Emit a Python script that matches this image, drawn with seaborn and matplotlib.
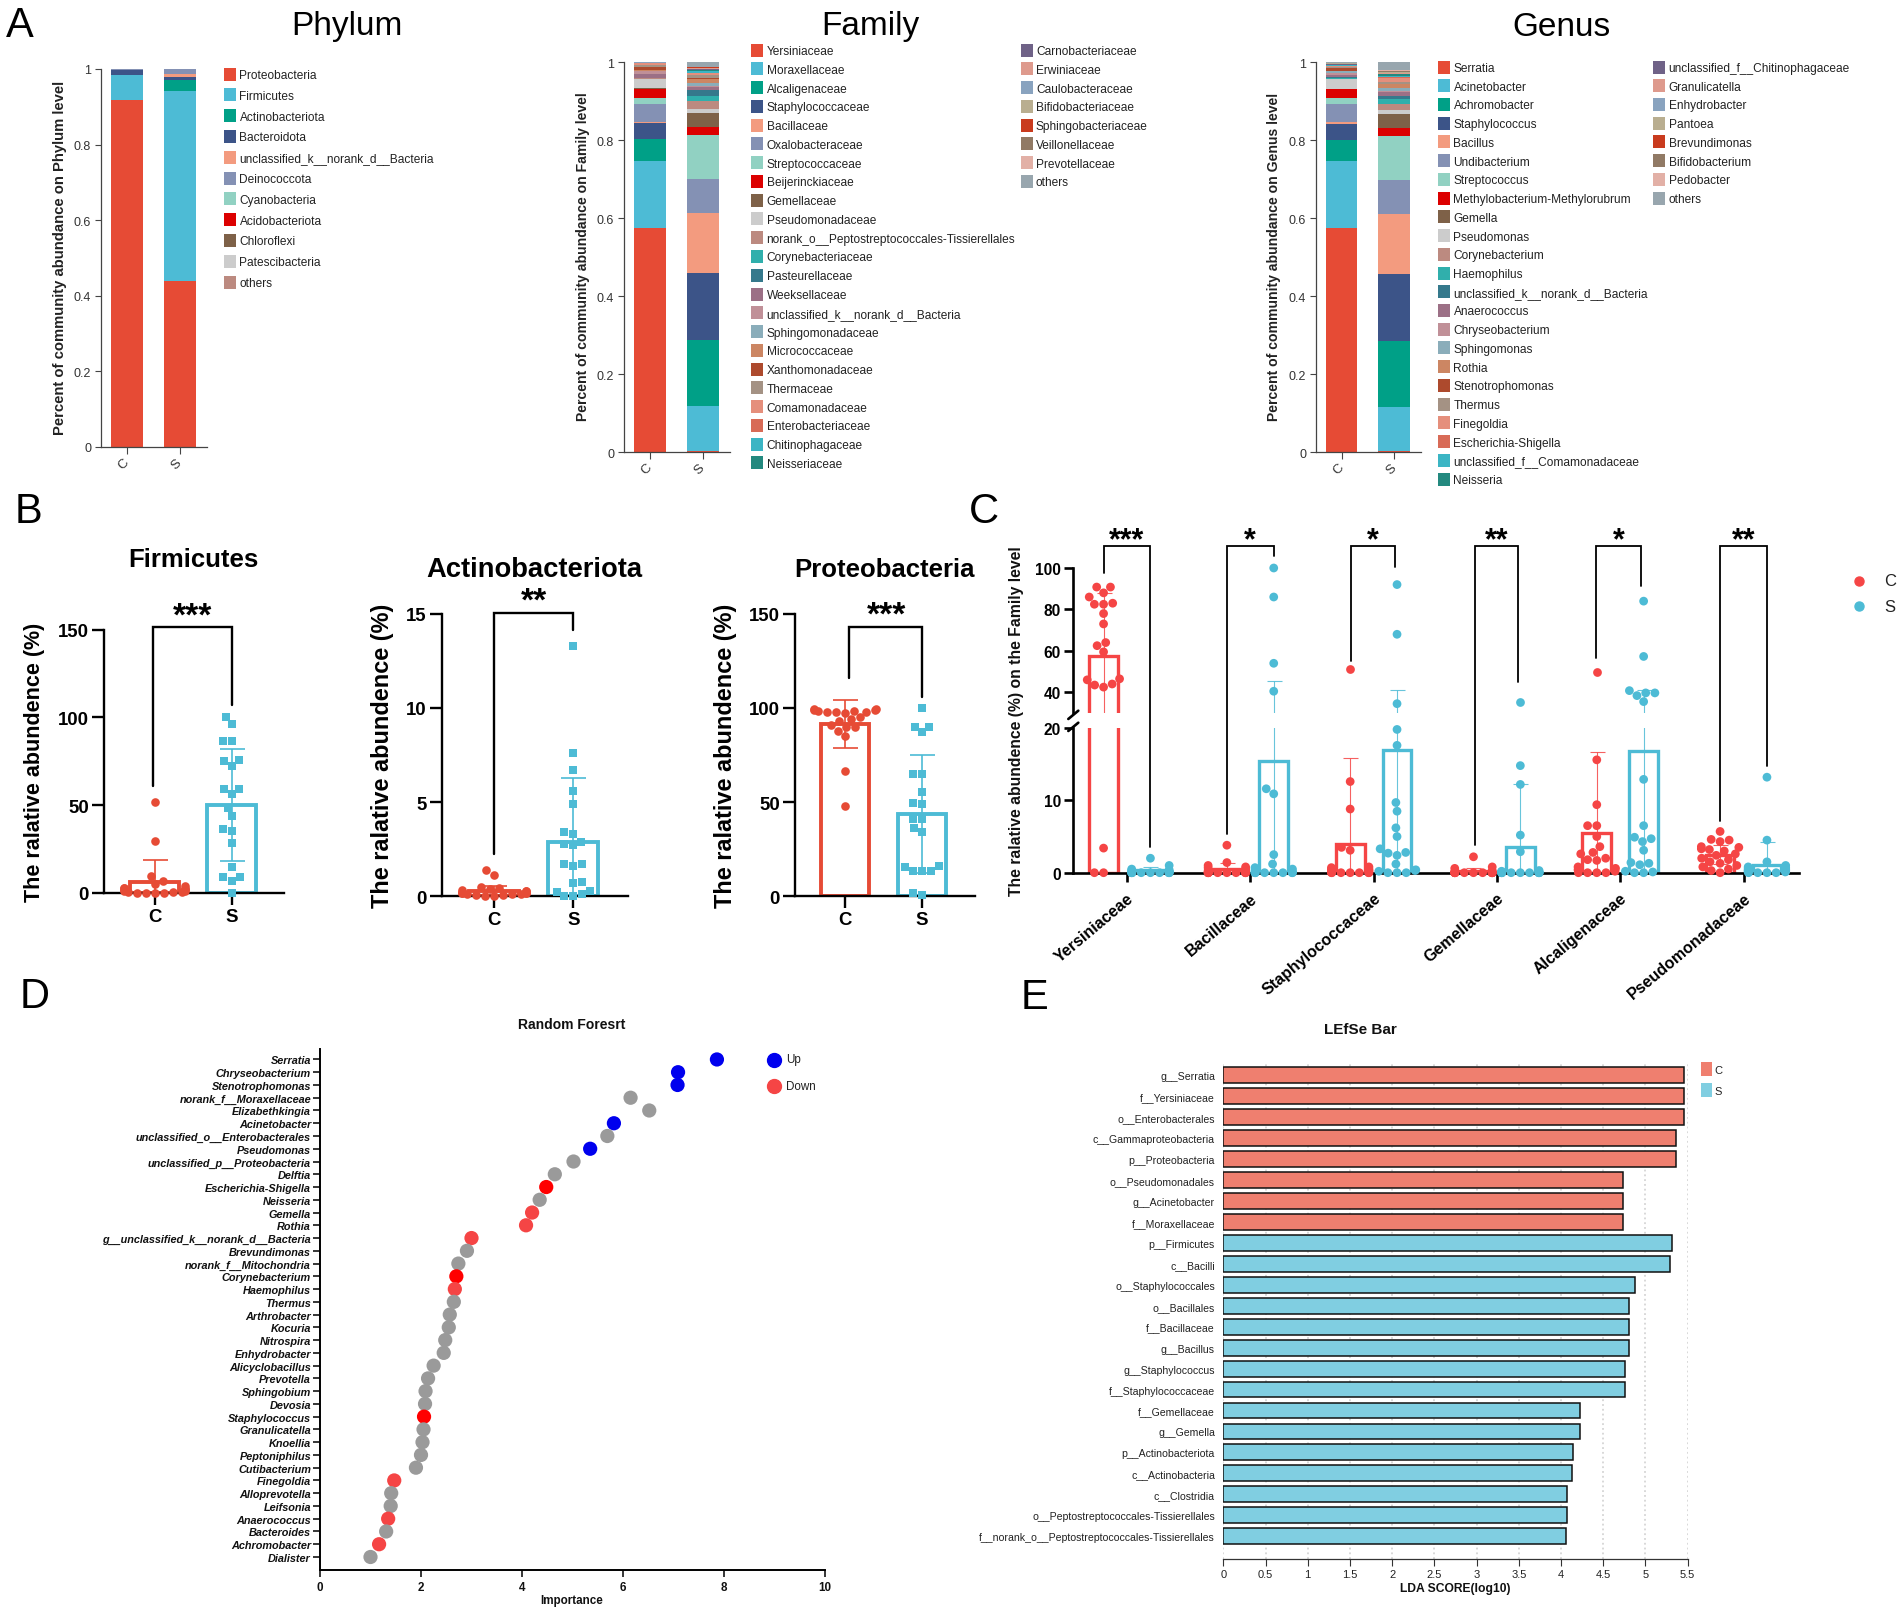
# Composite microbiome figure, panels A-E, rebuilt with seaborn
import numpy as np
import pandas as pd
import matplotlib
matplotlib.use("Agg")
import matplotlib.pyplot as plt
from matplotlib.lines import Line2D
from matplotlib.patches import Rectangle
import seaborn as sns

W, H = 1902, 1615
PT = 0.72  # one pixel in points at dpi 100

# ---------------------------------------------------------------------------
# Panel A data (tops of the stacked segments)
GROUPS = ["C", "S"]
phylum_labels = ["Proteobacteria", "Firmicutes", "Actinobacteriota", "Bacteroidota",
                 "unclassified_k__norank_d__Bacteria", "Deinococcota", "Cyanobacteria",
                 "Acidobacteriota", "Chloroflexi", "Patescibacteria", "others"]
phylum_c = [.919, .984, .9845, .9965, .9985, .999, .9993, .9995, .9997, .9998, 1]
phylum_s = [.44, .941, .970, .979, .988, .9995, .9997, .9998, .9999, .99995, 1]

family_labels = ["Yersiniaceae", "Moraxellaceae", "Alcaligenaceae", "Staphylococcaceae",
                 "Bacillaceae", "Oxalobacteraceae", "Streptococcaceae", "Beijerinckiaceae",
                 "Gemellaceae", "Pseudomonadaceae", "norank_o__Peptostreptococcales-Tissierellales",
                 "Corynebacteriaceae", "Pasteurellaceae", "Weeksellaceae",
                 "unclassified_k__norank_d__Bacteria", "Sphingomonadaceae", "Micrococcaceae",
                 "Xanthomonadaceae", "Thermaceae", "Comamonadaceae", "Enterobacteriaceae",
                 "Chitinophagaceae", "Neisseriaceae", "Carnobacteriaceae", "Erwiniaceae",
                 "Caulobacteraceae", "Bifidobacteriaceae", "Sphingobacteriaceae",
                 "Veillonellaceae", "Prevotellaceae", "others"]
family_c = [.575, .746, .803, .843, .847, .893, .908, .932, .933, .957, .958, .959, .960,
            .970, .976, .978, .979, .987, .993, .997, .9975, .998, .9982, .9984, .9986,
            .9988, .999, .9992, .9994, .9996, 1]
family_s = [.002, .119, .287, .458, .614, .700, .813, .833, .868, .880, .900, .914, .929,
            .935, .938, .946, .956, .958, .967, .972, .973, .978, .980, .981, .984, .985,
            .9855, .986, .9865, .987, 1]

genus_labels = ["Serratia", "Acinetobacter", "Achromobacter", "Staphylococcus", "Bacillus",
                "Undibacterium", "Streptococcus", "Methylobacterium-Methylorubrum", "Gemella",
                "Pseudomonas", "Corynebacterium", "Haemophilus",
                "unclassified_k__norank_d__Bacteria", "Anaerococcus", "Chryseobacterium",
                "Sphingomonas", "Rothia", "Stenotrophomonas", "Thermus", "Finegoldia",
                "Escherichia-Shigella", "unclassified_f__Comamonadaceae", "Neisseria",
                "unclassified_f__Chitinophagaceae", "Granulicatella", "Enhydrobacter",
                "Pantoea", "Brevundimonas", "Bifidobacterium", "Pedobacter", "others"]
genus_c = [.575, .745, .801, .841, .845, .892, .907, .931, .932, .956, .957, .958, .961,
           .966, .972, .976, .977, .984, .988, .990, .991, .992, .993, .994, .995, .996,
           .9965, .997, .9975, .998, 1]
genus_s = [.002, .116, .285, .456, .611, .697, .810, .831, .866, .878, .892, .904, .913,
           .924, .925, .933, .943, .944, .950, .960, .961, .965, .968, .969, .972, .973,
           .974, .975, .978, .979, 1]

stack_colours = ["#E64B35", "#4DBBD5", "#00A087", "#3C5488", "#F39B7F", "#8491B4", "#91D1C2",
                 "#DC0000", "#7E6148", "#CCCCCC", "#BC8A80", "#30AFAC", "#35798C", "#9C7086",
                 "#C09098", "#8AADBA", "#CC8663", "#AD4A2D", "#A49284", "#E58F7C", "#D86B57",
                 "#3BB5C4", "#23897F", "#6F6287", "#DE9A8D", "#89A3BF", "#B9AE90", "#C93B1E",
                 "#917A65", "#E2B0A6", "#98A6AE"]
phylum_colours = stack_colours[:10] + ["#BC8A80"]

# ---------------------------------------------------------------------------
# Panel B data
firm_c = [52, 29.5, 9.5, 7, 5, 4, 3, 3, 2, 2, 1.5, 1, 1, .5, .5, .3, .2, .1, 0, 0]
firm_s = [100, 96.3, 86.5, 86.5, 75.5, 75, 72.5, 59, 59, 56.5, 48.5, 44, 36.5, 35.5, 28.5,
          15, 9, 9, 7, 0]
firm_mean, firm_sd = [6.1, 50], [12.7, 32]
acti_c = [1.4, 1.15, .5, .45, .4, .35, .3, .3, .25, .2, .2, .15, .15, .1, .1, .1, .05, .05, 0, 0]
acti_s = [13.3, 7.6, 6.7, 5.6, 4.9, 3.4, 3.3, 2.9, 2.8, 2.7, 1.7, 1.6, 1.7, .75, .7, .3, .25,
          .1, 0, 0]
acti_mean, acti_sd = [.28, 2.87], [.28, 3.4]
prot_c = [99.5, 99, 99, 98.5, 98.5, 98, 98, 97.5, 99.5, 98, 95, 94, 93, 91, 90, 90, 88, 85,
          66.5, 47.7]
prot_s = [100, 90, 90, 87, 65, 65, 55.5, 49, 49.5, 41, 41, 36, 34, 16, 15.5, 13.5, 13.5, 13.5,
          1.5, .5]
prot_mean, prot_sd = [91.3, 43.7], [12.8, 31.2]

# ---------------------------------------------------------------------------
# Panel C data
c_families = ["Yersiniaceae", "Bacillaceae", "Staphylococcaceae", "Gemellaceae",
              "Alcaligenaceae", "Pseudomonadaceae"]
c_mean = [57.3, .55, 4.0, .3, 5.5, 2.5]
c_sd = [30.7, .8, 11.8, .4, 11.2, 1.3]
s_mean = [.35, 15.4, 17, 3.5, 16.8, 1.0]
s_sd = [.5, 30.2, 24, 8.7, 24.2, 3.3]
c_points = {
    "Yersiniaceae": [90.8, 90.8, 88, 86, 83, 82.5, 82.5, 78, 73, 64, 62.5, 59.5, 46, 46.5, 44,
                     42.5, 43.5, 3.4, 0, 0],
    "Bacillaceae": [3.8, 1.4, 1, .8, .7, .5, .3, .2, .1, .1, 0, 0, 0, 0, 0, 0, 0, 0, 0, 0],
    "Staphylococcaceae": [51.3, 12.6, 8.8, 3.5, 3.1, .8, .7, .5, .4, .3, .3, .2, .1, 0, 0, 0, 0,
                          0, 0, 0],
    "Gemellaceae": [2.2, .8, .6, .3, .1, .1, .1, 0, 0, 0, 0, 0, 0, 0, 0, 0, 0, 0, 0, 0],
    "Alcaligenaceae": [50, 15.6, 9.4, 6.5, 6.5, 5, 3.6, 2.8, 2.6, 2, 1.8, 1.7, .8, .6, .4, .2,
                       0, 0, 0, 0],
    "Pseudomonadaceae": [5.7, 4.6, 4.5, 4.3, 3.6, 3.5, 3.3, 3.2, 3, 2.6, 2.4, 2, 1.8, 1.5, 1.3,
                         1, .8, .5, .3, 0],
}
s_points = {
    "Yersiniaceae": [2, 1, .5, .4, .3, .2, .2, .1, .1, .1, 0, 0, 0, 0, 0, 0, 0, 0, 0, 0],
    "Bacillaceae": [100, 86, 54, 40.5, 11.6, 10.9, 2.5, 1.2, .7, .5, .3, .1, 0, 0, 0, 0, 0, 0, 0, 0],
    "Staphylococcaceae": [92, 68, 34.5, 19.8, 17.6, 9.7, 8.5, 6.2, 5, 3.3, 2.8, 2.7, 2.4, 1.2,
                          .4, .3, .2, 0, 0, 0],
    "Gemellaceae": [35.5, 14.8, 12.2, 5.2, 2.9, .3, .2, .1, .1, 0, 0, 0, 0, 0, 0, 0, 0, 0, 0, 0],
    "Alcaligenaceae": [84, 57.3, 40.8, 39.7, 39.7, 38.4, 35.5, 12.9, 6.5, 4.9, 4.7, 4.3, 3.1,
                       1.4, 1.3, 1.1, .2, .1, 0, 0],
    "Pseudomonadaceae": [13.2, 4.5, 1.5, 1, .8, .7, .6, .5, .4, .4, .3, .3, .2, .2, .1, .1, 0,
                         0, 0, 0],
}
c_stars = ["***", "*", "*", "**", "*", "**"]

# ---------------------------------------------------------------------------
# Panel D data
rf_genus = ["Serratia", "Chryseobacterium", "Stenotrophomonas", "norank_f__Moraxellaceae",
            "Elizabethkingia", "Acinetobacter", "unclassified_o__Enterobacterales", "Pseudomonas",
            "unclassified_p__Proteobacteria", "Delftia", "Escherichia-Shigella", "Neisseria",
            "Gemella", "Rothia", "g__unclassified_k__norank_d__Bacteria", "Brevundimonas",
            "norank_f__Mitochondria", "Corynebacterium", "Haemophilus", "Thermus", "Arthrobacter",
            "Kocuria", "Nitrospira", "Enhydrobacter", "Alicyclobacillus", "Prevotella",
            "Sphingobium", "Devosia", "Staphylococcus", "Granulicatella", "Knoellia",
            "Peptoniphilus", "Cutibacterium", "Finegoldia", "Alloprevotella", "Leifsonia",
            "Anaerococcus", "Bacteroides", "Achromobacter", "Dialister"]
rf_importance = [7.86, 7.09, 7.08, 6.15, 6.52, 5.82, 5.69, 5.35, 5.02, 4.65, 4.48, 4.35, 4.2,
                 4.08, 3.0, 2.91, 2.74, 2.7, 2.67, 2.65, 2.57, 2.55, 2.48, 2.45, 2.25, 2.14,
                 2.09, 2.08, 2.06, 2.05, 2.03, 2.0, 1.9, 1.47, 1.41, 1.4, 1.35, 1.31, 1.17, 1.0]
rf_status = ["up", "up", "up", "none", "none", "up", "none", "up", "none", "none", "strong",
             "none", "down", "down", "down", "none", "none", "strong", "down", "none", "none",
             "none", "none", "none", "none", "none", "none", "none", "strong", "none", "none",
             "none", "none", "down", "none", "none", "down", "none", "down", "none"]

# ---------------------------------------------------------------------------
# Panel E data
lda_taxa = ["g__Serratia", "f__Yersiniaceae", "o__Enterobacterales", "c__Gammaproteobacteria",
            "p__Proteobacteria", "o__Pseudomonadales", "g__Acinetobacter", "f__Moraxellaceae",
            "p__Firmicutes", "c__Bacilli", "o__Staphylococcales", "o__Bacillales", "f__Bacillaceae",
            "g__Bacillus", "g__Staphylococcus", "f__Staphylococcaceae", "f__Gemellaceae",
            "g__Gemella", "p__Actinobacteriota", "c__Actinobacteria", "c__Clostridia",
            "o__Peptostreptococcales-Tissierellales",
            "f__norank_o__Peptostreptococcales-Tissierellales"]
lda_score = [5.46, 5.46, 5.46, 5.36, 5.36, 4.74, 4.73, 4.73, 5.32, 5.29, 4.88, 4.80, 4.80, 4.80,
             4.76, 4.76, 4.23, 4.23, 4.14, 4.13, 4.07, 4.07, 4.06]
lda_group = ["C"] * 8 + ["S"] * 15
# ---------------------------------------------------------------------------

sns.set_theme(style="ticks")
plt.rcParams["font.family"] = ["Liberation Sans", "DejaVu Sans"]
plt.rcParams["axes.unicode_minus"] = False

RED, BLUE = "#E64B35", "#4DBBD5"
RED_C = "#F54545"

fig = plt.figure(figsize=(W / 100, H / 100), dpi=100, facecolor="white")


def add_ax(left, top, right, bottom):
    ax = fig.add_axes([left / W, 1 - bottom / H, (right - left) / W, (bottom - top) / H])
    ax.patch.set_alpha(0)
    return ax


def ftext(x, y, s, **kw):
    kw.setdefault("ha", "center")
    kw.setdefault("va", "center")
    return fig.text(x / W, 1 - y / H, s, **kw)


def fline(xs, ys, **kw):
    fig.add_artist(Line2D([x / W for x in xs], [1 - y / H for y in ys], **kw))


def stars(x, y, s, size):
    # asterisks sit high in the line, so place them from the baseline
    ftext(x, y + 0.58 * size / PT, s, fontsize=size, fontweight="bold", va="baseline", color="black")


# ---------------------------------------------------------------------------
# A. stacked bars
def stacked(box, tops_c, tops_s, labels, colours, ylabel, ylabel_x, ylabel_size=10.1):
    ax = add_ax(*box)
    rows = pd.DataFrame({
        "group": ["C"] * len(labels) + ["S"] * len(labels),
        "taxon": labels + labels,
        "value": np.r_[np.diff(tops_c, prepend=0), np.diff(tops_s, prepend=0)],
    })
    sns.histplot(data=rows, x="group", hue="taxon", weights="value", multiple="stack",
                 hue_order=labels[::-1], palette=dict(zip(labels, colours)), shrink=.6,
                 linewidth=0, alpha=1, legend=False, ax=ax)
    ax.set_xlim(-.49, 1.51)
    ax.set_ylim(0, 1)
    ax.set_xticks([0, 1])
    ax.set_xticklabels(GROUPS, rotation=45, ha="right", va="center", rotation_mode="anchor",
                       fontsize=9.5, color="#333333")
    ax.set_yticks([0, .2, .4, .6, .8, 1])
    ax.set_yticklabels(["0", "0.2", "0.4", "0.6", "0.8", "1"], fontsize=9, color="#333333")
    ax.tick_params(axis="both", length=6.5 * PT, width=.8, color="#444444", pad=2.5)
    ax.tick_params(axis="x", pad=5)
    ax.set_xlabel("")
    ax.set_ylabel("")
    sns.despine(ax=ax)
    for side in ["left", "bottom"]:
        ax.spines[side].set_linewidth(.9)
        ax.spines[side].set_color("#444444")
    ftext(ylabel_x, (box[1] + box[3]) / 2 - 1, ylabel, rotation=90, fontsize=ylabel_size,
          fontweight="bold", color="#222222")


def legend_col(square_x, y0, dy, labels, colours, square_w=12, square_h=13, fs=8.6, gap=3.5):
    for i, (lab, col) in enumerate(zip(labels, colours)):
        y = y0 + i * dy
        fig.add_artist(Rectangle((square_x / W, 1 - (y + square_h / 2) / H), square_w / W,
                                 square_h / H, transform=fig.transFigure, color=col, lw=0))
        ftext(square_x + square_w + gap, y + 1, lab, ha="left", fontsize=fs, color="#222222")


stacked((101, 70, 207, 448), phylum_c, phylum_s, phylum_labels, phylum_colours,
        "Percent of community abundance on Phylum level", 60, ylabel_size=10.7)
legend_col(224, 75, 20.8, phylum_labels, phylum_colours)

stacked((624, 63, 730, 453), family_c, family_s, family_labels, stack_colours,
        "Percent of community abundance on Family level", 583)
legend_col(751, 51, 18.77, family_labels[:23], stack_colours[:23])
legend_col(1020.5, 51, 18.77, family_labels[23:], stack_colours[23:])

stacked((1316, 63, 1421, 453), genus_c, genus_s, genus_labels, stack_colours,
        "Percent of community abundance on Genus level", 1274)
legend_col(1438, 68, 18.73, genus_labels[:23], stack_colours[:23])
legend_col(1653, 68, 18.73, genus_labels[23:], stack_colours[23:])

for x, title in [(347, "Phylum"), (870, "Family"), (1561, "Genus")]:
    ftext(x, 27, title, fontsize=24, color="black")


# ---------------------------------------------------------------------------
# B. bars with swarm points
def abundance(box, vals_c, vals_s, means, sds, ymax, yticks, xlim, title, title_xy, ylabel_xy,
              bracket, star_text, star_xy, title_size=18.5, ylabel_size=15.5):
    ax = add_ax(*box)
    palette = {"C": RED, "S": BLUE}
    sns.barplot(x=GROUPS, y=means, hue=GROUPS, palette=palette, saturation=1, fill=False,
                width=.63, linewidth=2.8, errorbar=None, legend=False, ax=ax)
    ax.set_xlim(*xlim)
    ax.set_ylim(0, ymax)
    for i, col in enumerate([RED, BLUE]):
        ax.errorbar(i, means[i], yerr=sds[i], color=col, lw=1.2, capsize=9, capthick=1.2,
                    zorder=2.5)
    for group, vals, marker in [("C", vals_c, "o"), ("S", vals_s, "s")]:
        sns.swarmplot(x=[group] * len(vals), y=vals, order=GROUPS, color=palette[group],
                      marker=marker, size=6.2, linewidth=0, clip_on=False, warn_thresh=1,
                      zorder=3, ax=ax)
    ax.set_xlim(*xlim)
    ax.set_ylim(0, ymax)
    ax.set_yticks(yticks)
    ax.set_xticks([0, 1])
    ax.set_xticklabels(GROUPS, fontsize=13.4, fontweight="bold", color="black")
    ax.set_yticklabels([str(t) for t in yticks], fontsize=13.4, fontweight="bold", color="black")
    ax.tick_params(axis="both", length=8.3, width=1.7, color="black", pad=2.5)
    ax.set_xlabel("")
    ax.set_ylabel("")
    sns.despine(ax=ax)
    for side in ["left", "bottom"]:
        ax.spines[side].set_linewidth(1.7)
        ax.spines[side].set_color("black")
    x0, y0, x1, y1, ytop = bracket
    ax.plot([x0, x0, x1, x1], [y0, ytop, ytop, y1], color="black", lw=1.7, clip_on=False,
            solid_joinstyle="miter", zorder=4)
    stars(star_xy[0], star_xy[1], star_text, 24)
    ftext(title_xy[0], title_xy[1], title, fontsize=title_size, fontweight="bold", color="black")
    ftext(ylabel_xy[0], ylabel_xy[1], "The ralative abundence (%)", rotation=90,
          fontsize=ylabel_size, fontweight="bold", color="black")


abundance((104, 630.7, 284, 894), firm_c, firm_s, firm_mean, firm_sd, 150, [0, 50, 100, 150],
          (-.658, 1.68), "Firmicutes", (193, 560), (35, 762), (-.02, 61, 1.0, 107, 151.5),
          "***", (192.7, 606))
abundance((441.7, 614.7, 627.7, 897.3), acti_c, acti_s, acti_mean, acti_sd, 15, [0, 5, 10, 15],
          (-.66, 1.686), "Actinobacteriota", (534, 570), (382, 756), (0, 2.25, 1, 14.16, 15.04),
          "**", (533.7, 591), title_size=19.7, ylabel_size=16.9)
abundance((795, 614.7, 975, 897.3), prot_c, prot_s, prot_mean, prot_sd, 150, [0, 50, 100, 150],
          (-.65, 1.69), "Proteobacteria", (884.7, 570), (725.7, 756),
          (.056, 116, 1.005, 106, 142.8), "***", (886.7, 605), ylabel_size=16.9)

# ---------------------------------------------------------------------------
# C. broken axis with dodged bars
bar_rows = pd.DataFrame({"family": c_families * 2, "group": ["C"] * 6 + ["S"] * 6,
                         "mean": c_mean + s_mean})
pt_rows = []
for group, pts, shift in [("C", c_points, -.19), ("S", s_points, .19)]:
    for i, fam in enumerate(c_families):
        pt_rows += [(round(i + shift, 2), group, v) for v in pts[fam]]
pt_rows = pd.DataFrame(pt_rows, columns=["pos", "group", "value"])

ax_up = add_ax(1073.3, 569, 1799, 714)
ax_low = add_ax(1073.3, 729, 1799, 873.7)
palette_c = {"C": RED_C, "S": BLUE}
for ax, ylim, keep in [(ax_up, (30, 100), pt_rows["value"] >= 30),
                       (ax_low, (0, 20), pt_rows["value"] <= 20)]:
    sns.barplot(data=bar_rows, x="family", y="mean", hue="group", order=c_families,
                hue_order=GROUPS, palette=palette_c, saturation=1, fill=False, width=.76,
                gap=.387, linewidth=2.4, errorbar=None, legend=False, ax=ax)
    ax.set_xlim(-.4355, 5.45)
    ax.set_ylim(*ylim)
    for i in range(6):
        ax.errorbar(i - .19, c_mean[i], yerr=c_sd[i], color=RED_C, lw=.8, capsize=5.4,
                    capthick=.8, zorder=2.5, alpha=.85)
        ax.errorbar(i + .19, s_mean[i], yerr=s_sd[i], color=BLUE, lw=.8, capsize=5.4,
                    capthick=.8, zorder=2.5, alpha=.85)
    # native scale keeps each swarm about as wide as its bar
    sns.swarmplot(data=pt_rows[keep], x="pos", y="value", hue="group", hue_order=GROUPS,
                  palette=palette_c, native_scale=True, size=6.3, linewidth=0, clip_on=False,
                  warn_thresh=1, legend=False, zorder=3, ax=ax)
    ax.set_xlim(-.4355, 5.45)
    ax.set_ylim(*ylim)
    ax.set_xlabel("")
    ax.set_ylabel("")
    sns.despine(ax=ax)
    ax.spines["left"].set_linewidth(1.9)
    ax.spines["left"].set_color("black")
    ax.spines["bottom"].set_linewidth(1.9)
    ax.spines["bottom"].set_color("black")
    ax.tick_params(axis="both", length=6.5, width=1.9, color="black", pad=2.5)

ax_up.spines["bottom"].set_visible(False)
ax_up.tick_params(axis="x", bottom=False, labelbottom=False)
ax_up.set_yticks([40, 60, 80, 100])
ax_up.set_yticklabels(["40", "60", "80", "100"], fontsize=11.2, fontweight="bold", color="black")
ax_low.set_yticks([0, 10, 20])
ax_low.set_yticklabels(["0", "10", "20"], fontsize=11.2, fontweight="bold", color="black")
ax_low.set_xticks(range(6))
ax_low.set_xticklabels(c_families, rotation=40, ha="right", va="top", rotation_mode="anchor",
                       fontsize=11.5, fontweight="bold", color="black")
ax_low.tick_params(axis="x", pad=6)
fline([1068.3, 1078.3], [720, 711.7], color="black", lw=1.9)
fline([1068.3, 1078.3], [732, 723.7], color="black", lw=1.9)
ftext(1016.7, 721, "The ralative abundence (%) on the Family level", rotation=90, fontsize=11.3,
      fontweight="bold", color="#111111")


def fig_y(value):
    # pixel row of an axis value on the broken scale
    ax = ax_up if value >= 30 else ax_low
    return H - ax.transData.transform((0, value))[1]


def fig_x(value):
    return ax_low.transData.transform((value, 0))[0]


c_brackets = [(-.19, 97.7, .19, 3.6), (.81, 5.3, 1.19, 105.6), (1.82, 55.3, 2.17, 100.3),
              (2.82, 3.8, 3.17, 45), (3.8, 56.5, 4.17, 91.3), (4.81, 7.2, 5.19, 14.8)]
for (x0, y0, x1, y1), s in zip(c_brackets, c_stars):
    px0, px1 = fig_x(x0), fig_x(x1)
    fline([px0, px0, px1, px1], [fig_y(y0), 546.7, 546.7, fig_y(y1)], color="black", lw=1.3,
          solid_joinstyle="miter")
    stars((px0 + px1) / 2, 532, s, 22)

for y, lab, col in [(581.7, "C", RED_C), (607, "S", BLUE)]:
    fig.add_artist(Line2D([1858.7 / W], [1 - y / H], marker="o", ms=6.5, mfc=col, mec=col, lw=0))
    ftext(1884, y, lab, ha="left", fontsize=12, color="#222222")

# ---------------------------------------------------------------------------
# D. random forest importance
rf_colours = {"up": "#0000EE", "down": "#F54545", "strong": "#FF0000", "none": "#9A9A9A"}
ax_d = add_ax(320, 1050, 825, 1571)
sns.scatterplot(x=rf_importance, y=rf_genus, hue=rf_status, palette=rf_colours, s=105, linewidth=0,
                legend=False, clip_on=False, zorder=3, ax=ax_d)
ax_d.set_xlim(0, 10)
ax_d.set_ylim(40.02, -.82)
ax_d.set_xticks(range(0, 11, 2))
ax_d.set_yticks(range(40))
ax_d.set_yticklabels(rf_genus, fontsize=7.8, fontweight="bold", fontstyle="italic", color="#111111")
for t in ax_d.get_xticklabels():
    t.set_fontsize(8.4)
    t.set_fontweight("bold")
    t.set_color("#111111")
ax_d.tick_params(axis="both", length=5, width=1.1, color="black", pad=1.5)
ax_d.tick_params(axis="x", pad=3)
ax_d.set_xlabel("")
ax_d.set_ylabel("")
sns.despine(ax=ax_d)
for side in ["left", "bottom"]:
    ax_d.spines[side].set_linewidth(1.4)
    ax_d.spines[side].set_color("black")
ftext(572, 1025, "Random Foresrt", fontsize=10, fontweight="bold", color="#111111")
ftext(572, 1601, "Importance", fontsize=8.4, fontweight="bold", color="#111111")
for y, lab, col in [(1060.5, "Up", "#0000EE"), (1087, "Down", "#F54545")]:
    fig.add_artist(Line2D([774 / W], [1 - y / H], marker="o", ms=10, mfc=col, mec=col, lw=0))
    ftext(786, y, lab, ha="left", fontsize=8.4, color="#222222")

# ---------------------------------------------------------------------------
# E. LEfSe bars
lda_colours = {"C": "#EF7F6F", "S": "#80CEE1"}
ax_e = add_ax(1223.3, 1065, 1687.6, 1560)
ax_e.set_axisbelow(True)
ax_e.xaxis.grid(True, ls=":", lw=1.3, color="#D5D5D5")
sns.barplot(x=lda_score, y=lda_taxa, hue=lda_group, palette=lda_colours, saturation=1, dodge=False,
            width=.76, edgecolor="#111111", linewidth=1.1, legend=False, ax=ax_e)
ax_e.set_xlim(0, 5.5)
ax_e.set_ylim(23.08, -.52)
ax_e.set_xticks(np.arange(0, 5.6, .5))
ax_e.set_xticklabels(["0", "0.5", "1", "1.5", "2", "2.5", "3", "3.5", "4", "4.5", "5", "5.5"],
                     fontsize=8, color="#222222")
ax_e.set_yticks(range(23))
ax_e.set_yticklabels(lda_taxa, fontsize=7.6, color="#222222")
ax_e.tick_params(axis="y", length=0, pad=6)
ax_e.tick_params(axis="x", length=5, width=.8, color="#333333", pad=2.5)
ax_e.set_xlabel("")
ax_e.set_ylabel("")
sns.despine(ax=ax_e, left=True)
ax_e.spines["bottom"].set_linewidth(.9)
ax_e.spines["bottom"].set_color("#333333")
ftext(1360.5, 1030, "LEfSe Bar", fontsize=11, fontweight="bold", color="#111111")
ftext(1455, 1589.5, "LDA SCORE(log10)", fontsize=8.7, fontweight="bold", color="#111111")
legend_col(1701, 1070, 21, ["C", "S"], [lda_colours["C"], lda_colours["S"]], square_w=11,
           square_h=14, fs=8, gap=2.5)

# ---------------------------------------------------------------------------
# panel letters
for x, y, letter in [(20, 26, "A"), (29, 512, "B"), (984, 512, "C"), (35, 997, "D"),
                     (1034, 998, "E")]:
    ftext(x, y, letter, fontsize=30, color="black")

fig.savefig("out.png", dpi=100)
